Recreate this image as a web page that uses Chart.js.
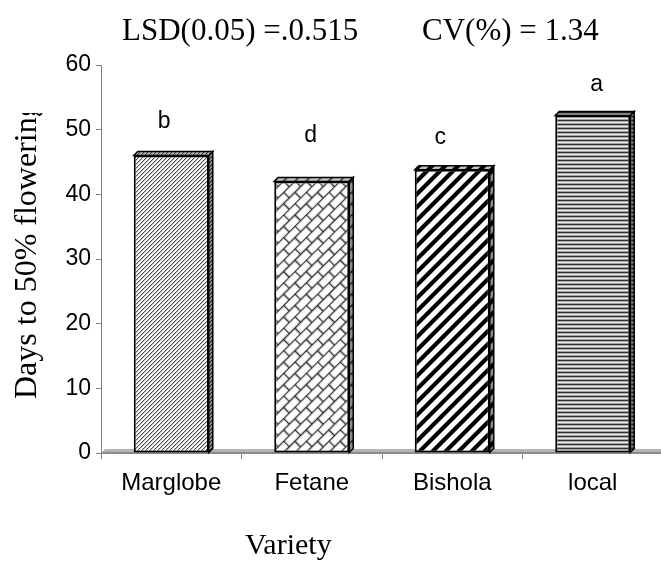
<!DOCTYPE html>
<html>
<head>
<meta charset="utf-8">
<script src="https://cdn.jsdelivr.net/npm/chart.js@4.4.1/dist/chart.umd.min.js"></script>
<style>
  html, body { margin: 0; padding: 0; background: #ffffff; overflow: hidden; }
  #wrap { width: 661px; height: 562px; overflow: hidden; }
  canvas { display: block; }
</style>
</head>
<body>
<div id="wrap"><canvas id="c" width="664" height="562"></canvas></div>
<script>
// ---- data ----
const categories = ["Marglobe", "Fetane", "Bishola", "local"];
const daysTo50Flowering = [46, 42, 43.8, 52.2];
const significanceLetters = ["b", "d", "c", "a"];
const letterLevels = [51.2, 49.0, 48.8, 57.0];
const yTicks = [0, 10, 20, 30, 40, 50, 60];
const statsTitle = ["LSD(0.05) =.0.515", "CV(%) = 1.34"];
const yAxisTitle = "Days to 50% flowering";
const xAxisTitle = "Variety";

const canvas = document.getElementById('c');
const ctx = canvas.getContext('2d');

function tile(w, h, draw) {
  const c = document.createElement('canvas');
  c.width = w; c.height = h;
  const g = c.getContext('2d');
  g.fillStyle = '#ffffff';
  g.fillRect(0, 0, w, h);
  draw(g, w, h);
  return c;
}

// Marglobe: fine upward diagonal
const pFine = ctx.createPattern(tile(4, 4, (g) => {
  for (let i = 0; i < 4; i++) {
    g.fillStyle = '#4a4a4a'; g.fillRect(i, 3 - i, 1, 1);
    g.fillStyle = '#bdbdbd'; g.fillRect((i + 1) % 4, 3 - i, 1, 1);
  }
}), 'repeat');

// Fetane: diagonal brick
const pBrick = ctx.createPattern(tile(16, 16, (g) => {
  g.strokeStyle = '#333333'; g.lineWidth = 1.6;
  g.beginPath();
  g.moveTo(0, 0.5); g.lineTo(16, 0.5);
  g.moveTo(0, 8.5); g.lineTo(16, 8.5);
  g.moveTo(0.5, 0); g.lineTo(0.5, 8.5);
  g.moveTo(8.5, 8.5); g.lineTo(8.5, 16);
  g.stroke();
}), 'repeat');
pBrick.setTransform(new DOMMatrix().rotate(-45));

// Bishola: wide upward diagonal
const pWide = ctx.createPattern(tile(13, 13, (g) => {
  g.strokeStyle = '#000000'; g.lineWidth = 4.2;
  g.beginPath();
  for (let k = -1; k <= 1; k++) {
    g.moveTo(k * 13 - 3, 16); g.lineTo(k * 13 + 16, -3);
  }
  g.stroke();
}), 'repeat');

// local: narrow horizontal
const pHoriz = ctx.createPattern(tile(4, 4, (g) => {
  const rows = ['#333333', '#a8a8a8', '#eeeeee', '#a0a0a0'];
  rows.forEach((col, i) => { g.fillStyle = col; g.fillRect(0, i, 4, 1); });
}), 'repeat');

const barPatterns = [pFine, pBrick, pWide, pHoriz];
const letterDx = [-7, -1, -12, 4];
const DEPTH = 4;

const floorPlugin = {
  id: 'floor',
  beforeDatasetsDraw(chart) {
    const a = chart.chartArea, c = chart.ctx;
    const y = chart.scales.y.getPixelForValue(0);
    c.save();
    c.fillStyle = '#b4b4b4';
    c.beginPath();
    c.moveTo(a.left, y);
    c.lineTo(a.left + DEPTH, y - DEPTH);
    c.lineTo(chart.width, y - DEPTH);
    c.lineTo(chart.width, y);
    c.closePath();
    c.fill();
    c.strokeStyle = '#8a8a8a'; c.lineWidth = 2;
    c.beginPath(); c.moveTo(a.left, y); c.lineTo(chart.width, y); c.stroke();
    c.restore();
  }
};

const threeDPlugin = {
  id: 'threeD',
  afterDatasetsDraw(chart) {
    const c = chart.ctx;
    const meta = chart.getDatasetMeta(0);
    meta.data.forEach((bar, i) => {
      const p = bar.getProps(['x', 'y', 'base', 'width'], true);
      const l = p.x - p.width / 2, r = p.x + p.width / 2, t = p.y, b = p.base;
      c.save();
      c.lineJoin = 'miter';
      // top face
      c.beginPath();
      c.moveTo(l, t); c.lineTo(l + DEPTH, t - DEPTH); c.lineTo(r + DEPTH, t - DEPTH); c.lineTo(r, t); c.closePath();
      c.fillStyle = barPatterns[i]; c.fill();
      c.fillStyle = 'rgba(0,0,0,0.25)'; c.fill();
      c.strokeStyle = '#000'; c.lineWidth = 1.5; c.stroke();
      // right face
      c.beginPath();
      c.moveTo(r, t); c.lineTo(r + DEPTH, t - DEPTH); c.lineTo(r + DEPTH, b - DEPTH); c.lineTo(r, b); c.closePath();
      c.fillStyle = barPatterns[i]; c.fill();
      c.fillStyle = 'rgba(0,0,0,0.45)'; c.fill();
      c.strokeStyle = '#000'; c.lineWidth = 1.5; c.stroke();
      c.restore();
    });
  }
};

const textPlugin = {
  id: 'texts',
  afterDraw(chart) {
    const c = chart.ctx;
    const meta = chart.getDatasetMeta(0);
    const ys = chart.scales.y;
    c.save();
    c.fillStyle = '#000';
    // letters
    c.font = '23px "Liberation Sans", Arial, sans-serif';
    c.textAlign = 'center'; c.textBaseline = 'middle';
    meta.data.forEach((bar, i) => {
      c.fillText(significanceLetters[i], bar.x + letterDx[i], ys.getPixelForValue(letterLevels[i]));
    });
    // stats title
    c.font = '31px "Liberation Serif", "Times New Roman", serif';
    c.textAlign = 'left'; c.textBaseline = 'alphabetic';
    c.fillText(statsTitle[0], 122, 40);
    c.fillText(statsTitle[1], 422, 40);
    // x title
    c.font = '30px "Liberation Serif", "Times New Roman", serif';
    c.fillText(xAxisTitle, 245, 554);
    // y title (clipped at the top)
    c.beginPath(); c.rect(0, 113, 60, 340); c.clip();
    c.translate(36, 399); c.rotate(-Math.PI / 2);
    c.font = '32px "Liberation Serif", "Times New Roman", serif';
    c.fillText(yAxisTitle, 0, 0);
    c.restore();
  }
};

new Chart(canvas, {
  type: 'bar',
  data: {
    labels: categories,
    datasets: [{
      data: daysTo50Flowering,
      backgroundColor: barPatterns,
      borderColor: '#000000',
      borderWidth: 2,
      borderSkipped: false,
      barPercentage: 0.534,
      categoryPercentage: 1.0
    }]
  },
  options: {
    responsive: false,
    animation: false,
    devicePixelRatio: 1,
    layout: { padding: { top: 65, left: 0, right: 1, bottom: 0 } },
    plugins: { legend: { display: false }, tooltip: { enabled: false }, title: { display: false } },
    scales: {
      x: {
        offset: true,
        grid: { offset: true, drawOnChartArea: false, drawTicks: true, tickLength: 6, color: '#808080', lineWidth: 1 },
        border: { display: false },
        ticks: { color: '#000', font: { family: '"Liberation Sans", Arial, sans-serif', size: 24 }, padding: 10, maxRotation: 0 },
        afterFit(s) { s.height = 109; }
      },
      y: {
        min: 0, max: 60,
        afterBuildTicks(s) { s.ticks = yTicks.map(v => ({ value: v })); },
        grid: { drawOnChartArea: false, drawTicks: true, tickLength: 5, color: '#808080', lineWidth: 1 },
        border: { display: true, color: '#808080', width: 1 },
        ticks: { color: '#000', font: { family: '"Liberation Sans", Arial, sans-serif', size: 23 }, padding: 5 },
        afterFit(s) { s.width = 101; }
      }
    }
  },
  plugins: [floorPlugin, threeDPlugin, textPlugin]
});
</script>
</body>
</html>
